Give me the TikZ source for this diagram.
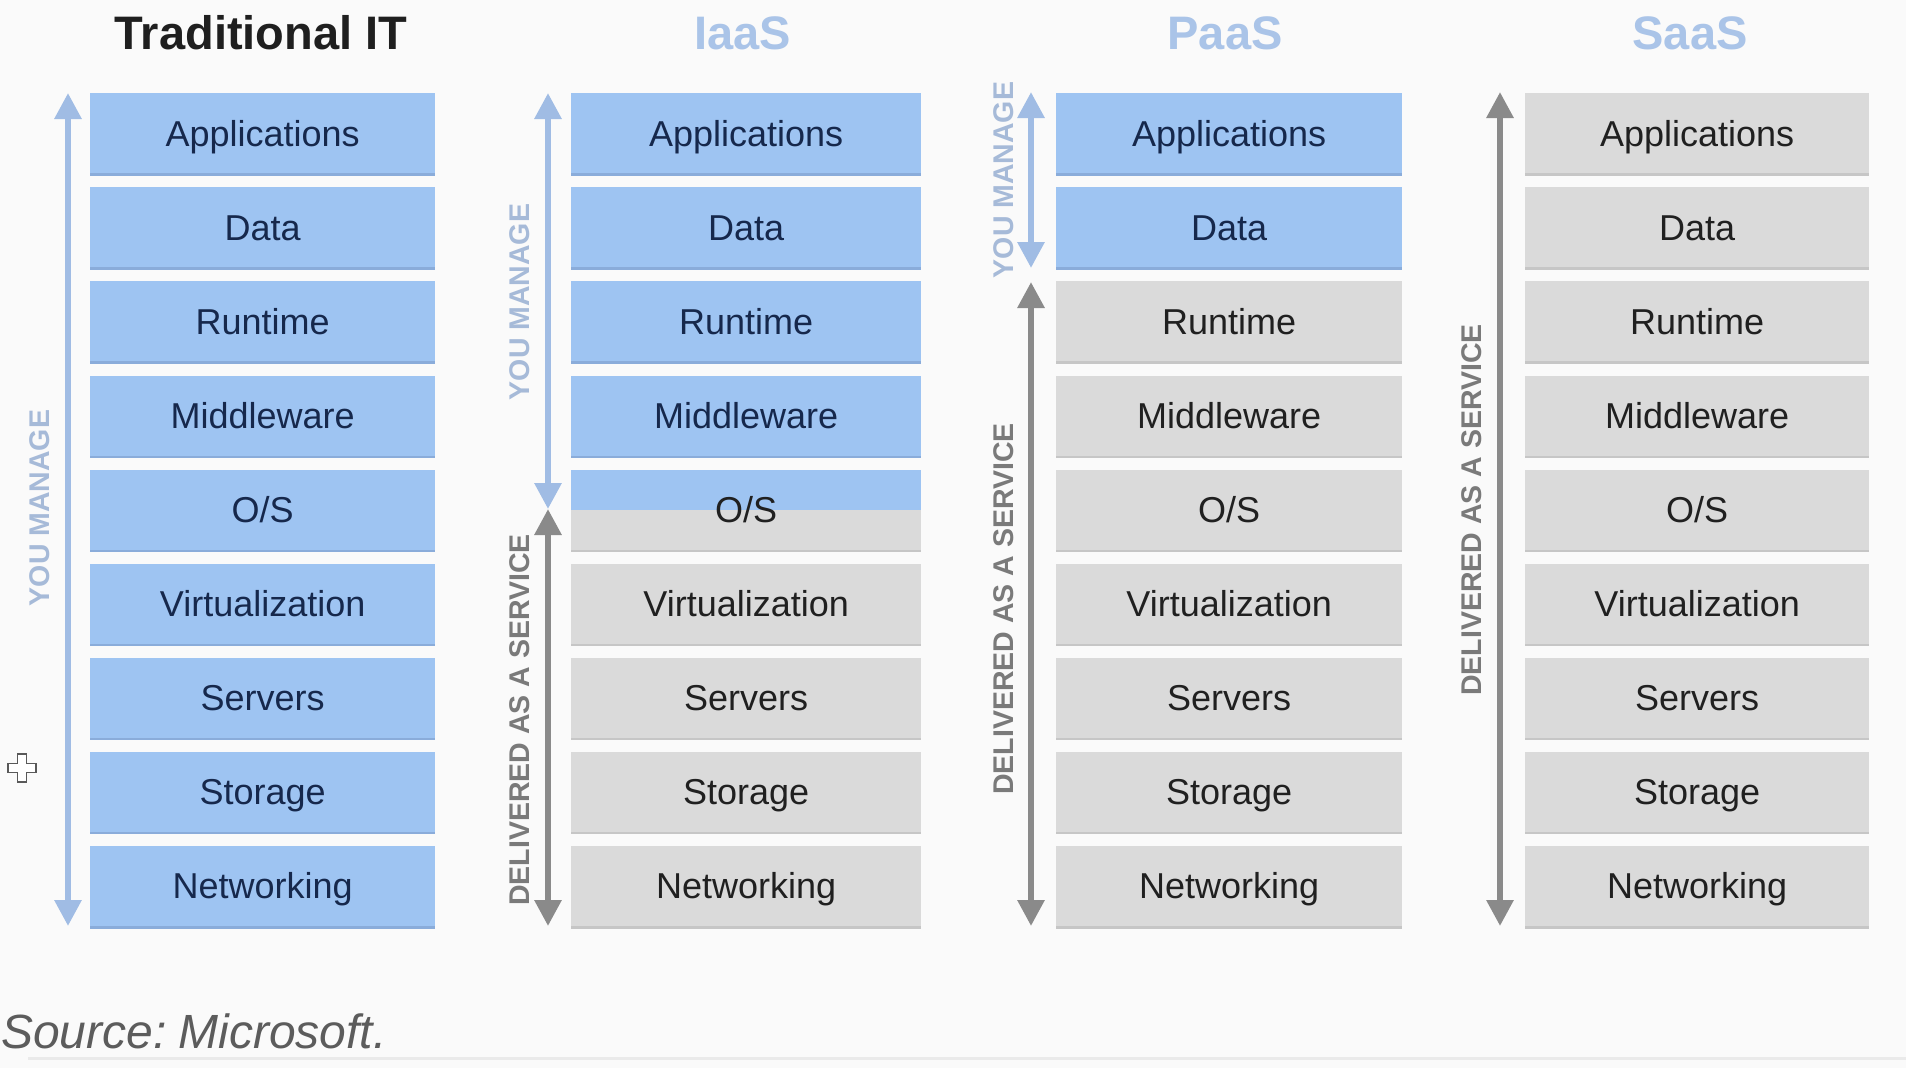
\documentclass[tikz,border=0pt]{standalone}
\usepackage{fontspec}
\setmainfont{Liberation Sans}
\usetikzlibrary{arrows.meta,shadows}
\definecolor{bg}{RGB}{250,250,250}
\definecolor{boxblue}{RGB}{158,196,242}
\definecolor{boxgray}{RGB}{218,218,218}
\definecolor{txtblue}{RGB}{22,40,76}
\definecolor{txtgray}{RGB}{32,32,32}
\definecolor{arrblue}{RGB}{160,188,228}
\definecolor{arrgray}{RGB}{138,138,138}
\definecolor{lblblue}{RGB}{166,186,216}
\definecolor{lblgray}{RGB}{122,122,122}
\definecolor{ttlblue}{RGB}{170,196,232}
\definecolor{shblue}{RGB}{138,172,218}
\definecolor{shgray}{RGB}{198,198,198}
\definecolor{srcgray}{RGB}{92,92,92}
\definecolor{lnline}{RGB}{234,234,234}
\tikzset{
  layer/.style={anchor=north west, minimum height=80pt, inner sep=0pt,
    text height=25.8pt, text depth=0pt, font=\fontsize{36}{40}\selectfont},
  bl/.style={layer, fill=boxblue, text=txtblue,
    copy shadow={shadow xshift=0pt, shadow yshift=-2.5pt, fill=shblue, draw=none}},
  gr/.style={layer, fill=boxgray, text=txtgray,
    copy shadow={shadow xshift=0pt, shadow yshift=-2.5pt, fill=shgray, draw=none}},
  sp/.style={layer, fill=boxgray, text=txtgray,
    copy shadow={shadow xshift=0pt, shadow yshift=-2.5pt, fill=shgray, draw=none},
    path picture={\fill[boxblue] (path picture bounding box.north west) rectangle (path picture bounding box.east);}},
  ttl/.style={anchor=base, font=\fontsize{47}{50}\selectfont\bfseries},
  lbl/.style={rotate=90, inner sep=0pt, font=\fontsize{28.5}{30}\selectfont\bfseries},
  dbl/.style={line width=6pt, {Triangle[width=26pt,length=26pt]}-{Triangle[width=26pt,length=26pt]}},
}
\begin{document}
\begin{tikzpicture}[x=1pt,y=-1pt]
\fill[bg] (0,0) rectangle (1906,1068);
\useasboundingbox (0,0) rectangle (1906,1068);

% titles
\node[ttl, text=black!88] (h1) at (261,49) {Traditional IT};
\node[ttl, text=ttlblue] (h2) at (743,49) {IaaS};
\node[ttl, text=ttlblue] (h3) at (1225,49) {PaaS};
\node[ttl, text=ttlblue] (h4) at (1690,49) {SaaS};

% stacks
\foreach \lbl [count=\i from 0] in {Applications,Data,Runtime,Middleware,O/S,Virtualization,Servers,Storage,Networking}{
  \pgfmathsetmacro\ytop{93+94.1*\i}
  \node[bl, minimum width=345pt] (t\i) at (90,\ytop) {\lbl};
  \ifnum\i<4
    \node[bl, minimum width=350pt] (i\i) at (571,\ytop) {\lbl};
  \else\ifnum\i=4
    \node[sp, minimum width=350pt] (i\i) at (571,\ytop) {\lbl};
  \else
    \node[gr, minimum width=350pt] (i\i) at (571,\ytop) {\lbl};
  \fi\fi
  \ifnum\i<2
    \node[bl, minimum width=346pt] (p\i) at (1056,\ytop) {\lbl};
  \else
    \node[gr, minimum width=346pt] (p\i) at (1056,\ytop) {\lbl};
  \fi
  \node[gr, minimum width=344pt] (s\i) at (1525,\ytop) {\lbl};
}

% arrows
\coordinate (a1t) at (68,93);   \coordinate (a1b) at (68,926);
\coordinate (a2t) at (548,93);  \coordinate (a2m) at (548,509); \coordinate (a2b) at (548,926);
\coordinate (a3t) at (1031,92); \coordinate (a3m) at (1031,268);
\coordinate (a3g) at (1031,282); \coordinate (a3b) at (1031,926);
\coordinate (a4t) at (1500,92); \coordinate (a4b) at (1500,926);
\draw[dbl, arrblue] (a1t) -- (a1b);
\draw[dbl, arrblue] (a2t) -- (a2m);
\draw[dbl, arrgray] (a2m) -- (a2b);
\draw[dbl, arrblue] (a3t) -- (a3m);
\draw[dbl, arrgray] (a3g) -- (a3b);
\draw[dbl, arrgray] (a4t) -- (a4b);

% side labels
\node[lbl, text=lblblue] (y1) at (40,508) {YOU MANAGE};
\node[lbl, text=lblblue] (y2) at (520,302) {YOU MANAGE};
\node[lbl, text=lblgray] (d2) at (520,720) {DELIVERED AS A SERVICE};
\node[lbl, text=lblblue] (y3) at (1004,180) {YOU MANAGE};
\node[lbl, text=lblgray] (d3) at (1004,609) {DELIVERED AS A SERVICE};
\node[lbl, text=lblgray] (d4) at (1472,510) {DELIVERED AS A SERVICE};

% source
\node[anchor=base west, inner sep=0pt, text=srcgray, font=\fontsize{48}{52}\selectfont\itshape] (src) at (1,1048) {Source:\hspace{-0.12em} Microsoft.};

% cursor
\draw[line width=1.5pt, draw=black!65, fill=white, line join=miter]
  (17.5,754) -- (26.5,754) -- (26.5,763.5) -- (36,763.5) -- (36,772.5) -- (26.5,772.5)
  -- (26.5,782) -- (17.5,782) -- (17.5,772.5) -- (8,772.5) -- (8,763.5) -- (17.5,763.5) -- cycle;

% faint bottom line
\draw[line width=3pt, lnline] (28,1058) -- (1906,1058);
\end{tikzpicture}
\end{document}
